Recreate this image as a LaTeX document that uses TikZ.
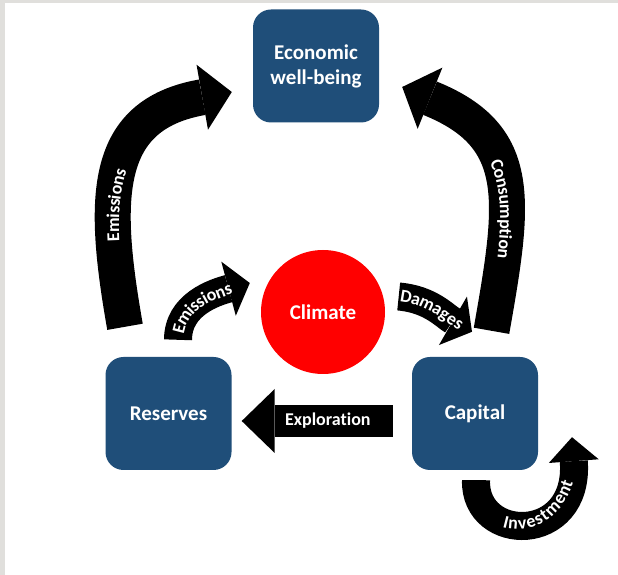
\documentclass[tikz,border=0pt]{standalone}
\usepackage{fontspec}
\setmainfont{Carlito}[Ligatures=CommonOff]
\usetikzlibrary{arrows.meta,decorations.text}
\definecolor{boxblue}{RGB}{31,78,121}
\definecolor{framegray}{RGB}{224,223,220}
\newcommand{\boxfont}{\fontsize{21}{25}\selectfont\bfseries}
\newcommand{\arrowfont}{\fontsize{18}{20}\selectfont\bfseries}
\tikzset{
  box/.style={rounded corners=18pt, fill=boxblue, minimum width=126pt, minimum height=113pt, text=white, font=\boxfont, align=center},
  bigarrow/.style={line width=36pt, -{Triangle[width=66pt,length=30pt,line width=0pt]}},
  smallarrow/.style={line width=28pt, -{Triangle[width=56pt,length=22pt,line width=0pt]}},
  flatarrow/.style={line width=32pt, -{Triangle[width=64pt,length=33pt,line width=0pt]}},
  arrowtext/.style={decorate, decoration={text along path, text align=center, text color=white, raise=-5.5pt, text={|\arrowfont|#1}}},
}
\begin{document}
\begin{tikzpicture}[x=1pt,y=1pt]
\useasboundingbox (0,0) rectangle (618,575);
\fill[white] (0,0) rectangle (618,575);
\fill[framegray] (0,571.5) rectangle (618,575);
\fill[framegray] (0,0) rectangle (4.5,575);
% boxes
\node[box] (econ) at (316,509) {Economic\\well-being};
\node[box] (res) at (168.5,161.5) {Reserves};
\node[box] (cap) at (475,161.5) {Capital};
\node[circle, fill=red, minimum size=124pt, text=white, font=\boxfont] (clim) at (323,263) {Climate};
% big arcs
\draw[bigarrow] ([shift={(-43.5,30)}]res.north) to[out=100,in=190,looseness=1.3] ([shift={(-21,-26)}]econ.west);
\path[arrowtext=Emissions, decoration={post length=56pt}] ([shift={(-43.5,30)}]res.north) to[out=100,in=190,looseness=1.3] ([shift={(-21,-26)}]econ.west);
\draw[bigarrow] ([shift={(16.5,26)}]cap.north) to[out=80,in=-22,looseness=1.3] ([shift={(23,-21)}]econ.east);
\path[arrowtext=Consumption, decoration={pre length=48pt}] ([shift={(23,-21)}]econ.east) to[out=-22,in=80,looseness=1.3] ([shift={(16.5,26)}]cap.north);
% small arcs
\draw[smallarrow] ([shift={(9.5,17)}]res.north) to[out=90,in=195] ([shift={(-11,29)}]clim.west);
\path[arrowtext=Emissions, decoration={post length=12pt}] ([shift={(9.5,17)}]res.north) to[out=90,in=195] ([shift={(-11,29)}]clim.west);
\draw[smallarrow] ([shift={(13.5,15.5)}]clim.east) to[out=-5,in=150] ([shift={(-3,25)}]cap.north);
\path[arrowtext=Damages, decoration={post length=10pt}] ([shift={(13.5,15.5)}]clim.east) to[out=-5,in=150] ([shift={(-3,25)}]cap.north);
% exploration
\draw[flatarrow] ([shift={(-19,-7.5)}]cap.west) -- ([shift={(10,-7.5)}]res.east)
  node[pos=0.43, text=white, font=\arrowfont] (expl) {Exploration};
% investment loop
\draw[smallarrow, -{Triangle[width=50pt,length=24pt,line width=0pt]}] ([shift={(1,-10)}]cap.south) .. controls ([shift={(-1,-73)}]cap.south) and ([shift={(105,-75)}]cap.south) .. ([shift={(97,33)}]cap.south);
\path[arrowtext=Investment, decoration={pre length=50pt, post length=40pt}] ([shift={(1,-10)}]cap.south) .. controls ([shift={(-1,-73)}]cap.south) and ([shift={(105,-75)}]cap.south) .. ([shift={(97,33)}]cap.south);
\end{tikzpicture}
\end{document}
